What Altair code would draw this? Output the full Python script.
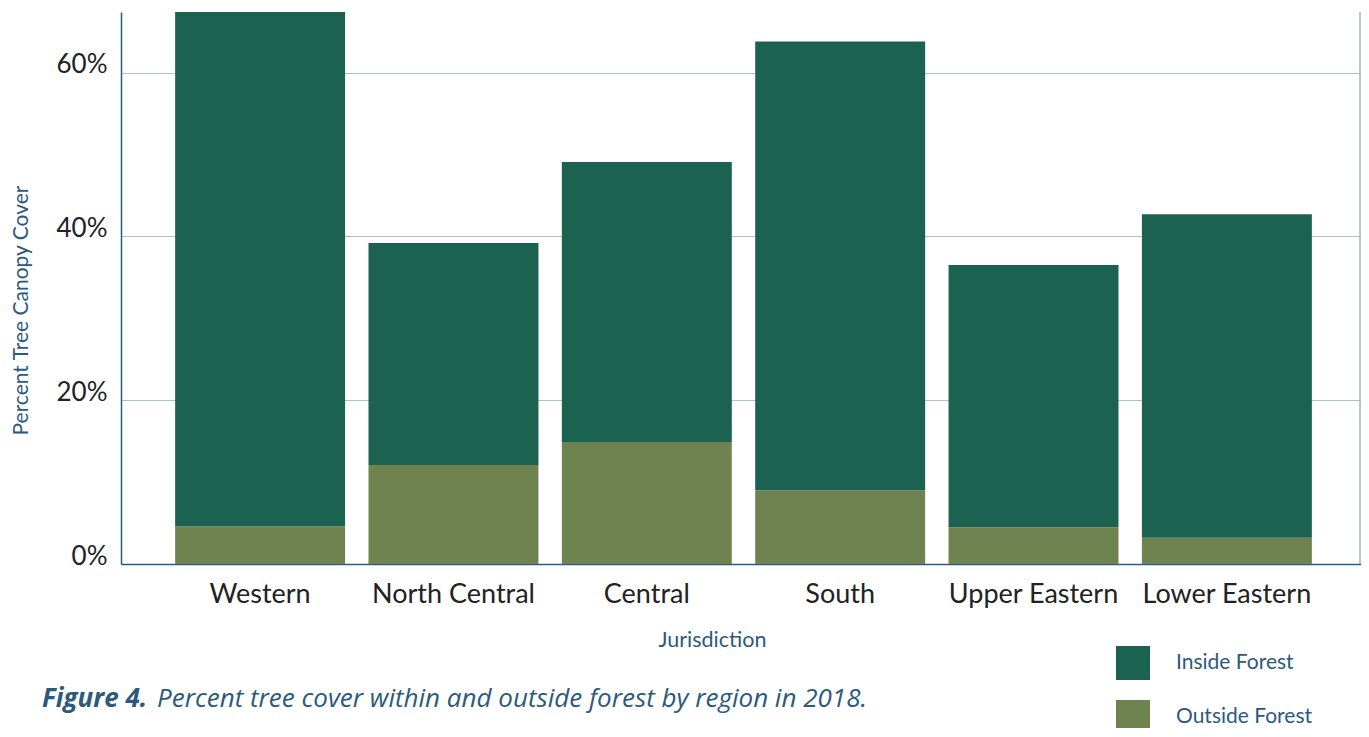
import altair as alt
import pandas as pd

regions = ["Western", "North Central", "Central", "South", "Upper Eastern", "Lower Eastern"]
inside_forest = [62.8, 27.1, 34.2, 54.8, 32.0, 39.5]
outside_forest = [4.6, 12.1, 14.9, 9.0, 4.5, 3.2]
series = ["Inside Forest", "Outside Forest"]
colors = ["#1b6350", "#6f8351"]

rows = []
for r, i, o in zip(regions, inside_forest, outside_forest):
    rows.append({"Jurisdiction": r, "Type": "Outside Forest", "Value": o, "ord": 0})
    rows.append({"Jurisdiction": r, "Type": "Inside Forest", "Value": i, "ord": 1})
df = pd.DataFrame(rows)

W, H = 1240, 552
FONT = "Lato"
CAPFONT = "Open Sans"
BLUE = "#2c5a7c"

bars = alt.Chart(df).mark_bar().encode(
    x=alt.X("Jurisdiction:N", sort=regions,
            scale=alt.Scale(paddingInner=0.121, paddingOuter=0.28, range=[0, 1245]),
            axis=alt.Axis(title="Jurisdiction", labelAngle=0, labelFontSize=27,
                          labelColor="#222222", labelFont=FONT, labelPadding=17,
                          ticks=False, domainColor="#2c5a80", domainWidth=1.5,
                          titleFont=FONT, titleFontSize=21.5, titleFontWeight="normal",
                          titleColor=BLUE, titleX=591, titleY=76,
                          titleAlign="center", titleBaseline="middle")),
    y=alt.Y("Value:Q", stack="zero",
            scale=alt.Scale(domain=[0, 67.4], nice=False, zero=True),
            axis=alt.Axis(title="Percent Tree Canopy Cover", values=[0, 20, 40, 60],
                          labelExpr="datum.value + '%'", labelFontSize=26,
                          labelColor="#222222", labelFont=FONT, labelPadding=14,
                          labelBaseline="alphabetic", labelOffset=0,
                          ticks=False, domainColor="#2c5a80", domainWidth=1.5,
                          grid=True, gridColor="#a8c3cb", gridWidth=1,
                          titleFont=FONT, titleFontSize=21, titleFontWeight="normal",
                          titleColor=BLUE, titleX=-100, titleY=298,
                          titleBaseline="middle", titleAlign="center")),
    color=alt.Color("Type:N", scale=alt.Scale(domain=series, range=colors),
                    legend=alt.Legend(title=None, orient="none", legendX=995, legendY=634,
                                      symbolType="square", symbolSize=1156,
                                      symbolStrokeWidth=0, labelFontSize=21,
                                      labelFont=FONT, labelColor=BLUE, labelOffset=26,
                                      rowPadding=20, padding=0)),
    order=alt.Order("ord:Q", sort="ascending"),
)

right_rule = alt.Chart(pd.DataFrame({"a": [0]})).mark_rule(color="#9db6c2", strokeWidth=1.5).encode(
    x=alt.value(W - 1), y=alt.value(0), y2=alt.value(H)
)

cap = pd.DataFrame({"a": [0]})
cap1 = alt.Chart(cap).mark_text(
    text="Figure 4.", font=CAPFONT, fontSize=26, fontStyle="italic", fontWeight="bold",
    color=BLUE, align="left", baseline="alphabetic"
).encode(x=alt.value(-79), y=alt.value(695))
cap2 = alt.Chart(cap).mark_text(
    text="Percent tree cover within and outside forest by region in 2018.",
    font=CAPFONT, fontSize=26, fontStyle="italic", color=BLUE, align="left",
    baseline="alphabetic"
).encode(x=alt.value(36), y=alt.value(695))

chart = alt.layer(bars, right_rule, cap1, cap2).properties(
    width=W, height=H,
    autosize=alt.AutoSizeParams(type="none"),
    padding={"left": 113, "top": 4, "right": 0, "bottom": 164},
).configure_view(stroke=None)

chart.save("out.html", embed_options={"renderer": "svg", "actions": False})
